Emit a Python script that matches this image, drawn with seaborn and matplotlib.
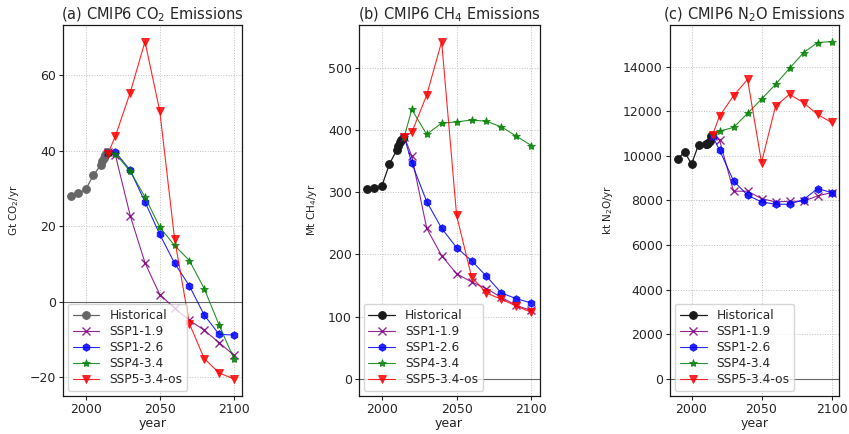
import matplotlib
matplotlib.use("Agg")
import matplotlib.pyplot as plt
import pandas as pd
import seaborn as sns

# years
hist_years = [1990, 1995, 2000, 2005, 2010, 2011, 2012, 2013, 2014]
ssp_years = [2015, 2020, 2030, 2040, 2050, 2060, 2070, 2080, 2090, 2100]

# CO2 emissions, Gt CO2/yr
co2_hist = [28.0, 28.7, 29.7, 33.4, 36.1, 37.2, 38.0, 38.8, 39.6]
co2_ssp119 = [39.5, 38.8, 22.8, 10.3, 1.9, -1.7, -4.9, -7.5, -10.8, -14.1]
co2_ssp126 = [39.4, 39.6, 34.8, 26.4, 17.8, 10.2, 4.2, -3.5, -8.6, -8.8]
co2_ssp434 = [39.3, 39.2, 34.5, 27.7, 19.7, 14.9, 10.9, 3.5, -6.1, -15.0]
co2_ssp534 = [39.2, 43.8, 55.3, 68.8, 50.4, 16.6, -5.8, -15.0, -18.8, -20.4]

# CH4 emissions, Mt CH4/yr
ch4_hist = [305, 307, 310, 345, 368, 375, 380, 384, 387]
ch4_ssp119 = [389, 358, 242, 198, 169, 156, 145, 131, 118, 110]
ch4_ssp126 = [389, 347, 285, 242, 211, 190, 165, 138, 129, 122]
ch4_ssp434 = [389, 433, 393, 411, 413, 416, 414, 405, 390, 375]
ch4_ssp534 = [389, 396, 456, 542, 263, 164, 138, 128, 117, 107]

# N2O emissions, kt N2O/yr
n2o_hist = [9850, 10180, 9630, 10500, 10510, 10530, 10580, 10650, 10880]
n2o_ssp119 = [10900, 10705, 8415, 8415, 8085, 7935, 7965, 7965, 8205, 8355]
n2o_ssp126 = [10900, 10256, 8879, 8235, 7935, 7830, 7830, 8040, 8534, 8355]
n2o_ssp434 = [10920, 11110, 11274, 11903, 12547, 13205, 13924, 14628, 15077,
              15122]
n2o_ssp534 = [10945, 11783, 12697, 13430, 9702, 12232, 12756, 12382, 11858,
              11499]

scenarios = ["SSP1-1.9", "SSP1-2.6", "SSP4-3.4", "SSP5-3.4-os"]
colors = ["purple", "blue", "green", "red"]
markers = ["x", "h", "*", "v"]

gases = [
    ("(a) CMIP6 CO$_2$ Emissions", "Gt CO$_2$/yr", "#666666",
     co2_hist, [co2_ssp119, co2_ssp126, co2_ssp434, co2_ssp534]),
    ("(b) CMIP6 CH$_4$ Emissions", "Mt CH$_4$/yr", "#1a1a1a",
     ch4_hist, [ch4_ssp119, ch4_ssp126, ch4_ssp434, ch4_ssp534]),
    ("(c) CMIP6 N$_2$O Emissions", "kt N$_2$O/yr", "#1a1a1a",
     n2o_hist, [n2o_ssp119, n2o_ssp126, n2o_ssp434, n2o_ssp534]),
]

sns.set_style("ticks")
plt.rcParams["font.family"] = ["DejaVu Sans"]

fig = plt.figure(figsize=(8.49, 4.34), dpi=100)
positions = [[0.074, 0.088, 0.211, 0.855],
             [0.4225, 0.088, 0.213, 0.855],
             [0.789, 0.088, 0.1995, 0.855]]

for pos, (title, ylabel, hcol, hist, ssps) in zip(positions, gases):
    ax = fig.add_axes(pos)
    df_hist = pd.DataFrame({"year": hist_years, "value": hist})
    sns.lineplot(data=df_hist, x="year", y="value", ax=ax, color=hcol,
                 marker="o", markersize=5.5, markeredgecolor=hcol,
                 markeredgewidth=0.8, lw=0.9, label="Historical")
    for name, vals, col, mk in zip(scenarios, ssps, colors, markers):
        df = pd.DataFrame({"year": ssp_years, "value": vals})
        ms = 6 if mk == "*" else 5.5
        sns.lineplot(data=df, x="year", y="value", ax=ax, color=col,
                     marker=mk, markersize=ms, markeredgecolor=col,
                     markeredgewidth=1 if mk == "x" else 0.6, lw=0.8,
                     alpha=0.85, label=name)
    ax.axhline(0, color="0.4", lw=0.8, zorder=1)
    ax.grid(True, ls=":", lw=0.7, color="0.75")
    ax.set_xticks([2000, 2050, 2100])
    ax.tick_params(labelsize=9, length=3, width=0.8, pad=2)
    ax.set_title(title, fontsize=10.5, pad=4)
    ax.set_xlabel("year", fontsize=9, labelpad=1)
    ax.set_ylabel(ylabel, fontsize=7.5, labelpad=6)
    for s in ax.spines.values():
        s.set_color("0.1")
        s.set_linewidth(0.9)
    ax.legend(loc="lower left", fontsize=8.8, labelspacing=0.25,
              borderaxespad=0.4, handlelength=2.2)

fig.savefig("out.png", dpi=100)
